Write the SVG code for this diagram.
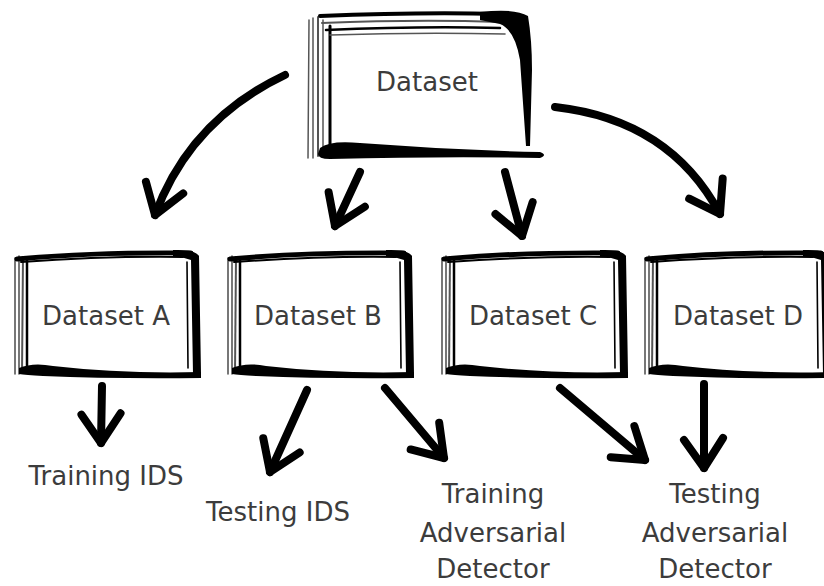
<svg xmlns="http://www.w3.org/2000/svg" width="824" height="586" viewBox="0 0 824 586">
  <style>
    .lbl { font-family: "DejaVu Sans", Verdana, sans-serif; font-size: 26px; fill: #3c3c3c; text-anchor: middle; }
    .ink { fill: none; stroke: #000; stroke-linecap: round; stroke-linejoin: round; }
    .grey { fill: none; stroke: #555; stroke-linecap: round; }
    .arrow { fill: none; stroke: #000; stroke-width: 8; stroke-linecap: round; marker-end: url(#head); }
  </style>
  <defs>
    <marker id="head" markerUnits="userSpaceOnUse" viewBox="-40 -30 50 60" markerWidth="50" markerHeight="60" refX="0" refY="0" orient="auto">
      <path d="M-30,-19 L0,0 L-28,20" fill="none" stroke="#000" stroke-width="8" stroke-linecap="round" stroke-linejoin="round"/>
    </marker>
    <!-- sketchy frame for the four small boxes -->
    <g id="smallBox">
      <rect x="4" y="8" width="176" height="116" fill="#fff"/>
      <path class="grey" d="M2,8 L2,124" stroke-width="1.6"/>
      <path class="grey" d="M6,6 L6,124" stroke-width="1.6"/>
      <path class="grey" d="M10,7 L9,123" stroke-width="2" stroke="#777"/>
      <path class="ink" d="M14,8 L14,122" stroke-width="2.5"/>
      <path class="ink" d="M4,9 Q80,2 178,3" stroke-width="5"/>
      <path class="ink" d="M8,12 Q90,6 170,7" stroke-width="2"/>
      <path d="M160,0 Q182,-1 186,6 L188,124 L180,124 L178,10 Q170,7 160,6 Z" fill="#000"/>
      <path class="ink" d="M174,12 L175,118" stroke-width="1.6"/>
      <path d="M6,118 Q20,112 40,116 Q110,124 188,122 L188,128 Q100,129 30,126 Q12,125 6,124 Z" fill="#000"/>
    </g>
  </defs>

  <!-- top dataset box -->
  <g id="node-dataset">
    <rect x="318" y="22" width="210" height="130" fill="#fff"/>
    <path class="grey" d="M309,20 L308,158" stroke-width="1.5"/>
    <path class="grey" d="M313,18 L313,158" stroke-width="1.5"/>
    <path class="grey" d="M318,17 L318,156" stroke-width="2"/>
    <path class="grey" d="M323,20 L323,156" stroke-width="1.5" stroke="#777"/>
    <path class="ink" d="M330,26 L330,152" stroke-width="3"/>
    <path class="ink" d="M320,16 Q420,12 500,14" stroke-width="4"/>
    <path class="grey" d="M322,23 Q420,19 500,22" stroke-width="2"/>
    <path class="ink" d="M326,30 Q420,26 500,28" stroke-width="2.5"/>
    <path class="grey" d="M330,35 Q420,32 505,34" stroke-width="1.6"/>
    <path d="M480,12 Q515,8 528,16 Q532,40 532,70 L530,146 L526,146 L520,60 Q515,30 500,24 L480,20 Z" fill="#000"/>
    <path d="M320,148 Q330,140 360,143 Q450,150 540,152 Q548,155 540,158 Q450,156 330,159 Q318,159 318,154 Z" fill="#000"/>
    <text class="lbl" x="427" y="91">Dataset</text>
  </g>

  <!-- second row -->
  <g id="node-dataset-a">
    <use href="#smallBox" x="13" y="250"/>
    <text class="lbl" x="106" y="325">Dataset A</text>
  </g>
  <g id="node-dataset-b">
    <use href="#smallBox" x="226" y="250"/>
    <text class="lbl" x="318" y="325">Dataset B</text>
  </g>
  <g id="node-dataset-c">
    <use href="#smallBox" x="440" y="250"/>
    <text class="lbl" x="533" y="325">Dataset C</text>
  </g>
  <g id="node-dataset-d">
    <use href="#smallBox" x="643" y="250"/>
    <text class="lbl" x="738" y="325">Dataset D</text>
  </g>

  <!-- usage labels -->
  <g id="node-training-ids">
    <text class="lbl" x="106" y="485">Training IDS</text>
  </g>
  <g id="node-testing-ids">
    <text class="lbl" x="278" y="521">Testing IDS</text>
  </g>
  <g id="node-training-detector">
    <text class="lbl" x="493" y="503">Training</text>
    <text class="lbl" x="493" y="542">Adversarial</text>
    <text class="lbl" x="493" y="578">Detector</text>
  </g>
  <g id="node-testing-detector">
    <text class="lbl" x="715" y="503">Testing</text>
    <text class="lbl" x="715" y="542">Adversarial</text>
    <text class="lbl" x="715" y="578">Detector</text>
  </g>

  <!-- connectors -->
  <g id="connectors">
    <path class="arrow" d="M285,75 Q190,120 155,215"/>
    <path class="arrow" d="M360,172 L335,226"/>
    <path class="arrow" d="M505,172 L522,236"/>
    <path class="arrow" d="M555,107 Q670,120 720,214"/>
    <path class="arrow" d="M102,386 L101,443"/>
    <path class="arrow" d="M307,390 L270,472"/>
    <path class="arrow" d="M385,388 L444,458"/>
    <path class="arrow" d="M560,388 L645,460"/>
    <path class="arrow" d="M704,384 L704,468"/>
  </g>
</svg>
